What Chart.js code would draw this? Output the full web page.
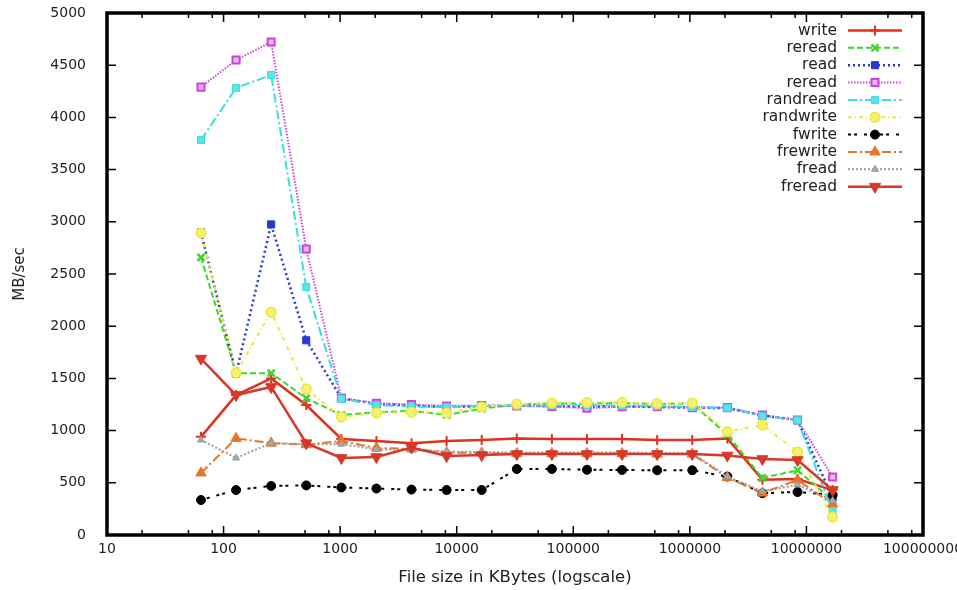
<!DOCTYPE html>
<html lang="en">
<head>
<meta charset="UTF-8">
<title>File size vs MB/sec</title>
<script src="https://cdn.jsdelivr.net/npm/chart.js"></script>
<style>
  html, body { margin: 0; padding: 0; background: #fff; }
</style>
</head>
<body>
<canvas id="chart" width="957" height="590"></canvas>
<script>
// file sizes in KBytes (x), values in MB/sec
const fileSizes = [64, 128, 256, 512, 1024, 2048, 4096, 8192, 16384, 32768, 65536,
  131072, 262144, 524288, 1048576, 2097152, 4194304, 8388608, 16777216];
const xTickValues = [10, 100, 1000, 10000, 100000, 1000000, 10000000, 100000000];
const xTickLabels = ['10', '100', '1000', '10000', '100000', '1000000', '10000000', '100000000'];
const xMinorMults = [2, 5, 8];
const yTickValues = [0, 500, 1000, 1500, 2000, 2500, 3000, 3500, 4000, 4500, 5000];

const seriesNames = ['write', 'reread', 'read', 'reread', 'randread', 'randwrite', 'fwrite', 'frewrite', 'fread', 'freread'];

const writeVals     = [940, 1340, 1500, 1245, 920, 900, 880, 900, 910, 925, 920, 920, 920, 910, 910, 925, 530, 536, 430];
const rereadVals    = [2660, 1550, 1550, 1310, 1150, 1175, 1190, 1150, 1210, 1250, 1260, 1260, 1265, 1255, 1260, 960, 546, 620, 330];
const readVals      = [2900, 1545, 2975, 1865, 1310, 1255, 1240, 1225, 1235, 1240, 1235, 1230, 1235, 1225, 1220, 1215, 1145, 1100, 360];
const reread2Vals   = [4290, 4550, 4722, 2740, 1312, 1262, 1250, 1236, 1240, 1236, 1230, 1215, 1228, 1230, 1220, 1222, 1148, 1102, 556];
const randreadVals  = [3784, 4282, 4406, 2375, 1305, 1245, 1230, 1225, 1235, 1240, 1240, 1245, 1240, 1235, 1225, 1218, 1140, 1098, 225];
const randwriteVals = [2893, 1552, 2136, 1398, 1130, 1169, 1178, 1169, 1226, 1255, 1264, 1268, 1270, 1260, 1264, 990, 1054, 795, 172];
const fwriteVals    = [335, 431, 470, 475, 455, 445, 435, 431, 431, 632, 632, 625, 623, 620, 620, 560, 400, 412, 383];
const frewriteVals  = [594, 925, 880, 865, 900, 833, 825, 790, 785, 780, 780, 780, 780, 775, 775, 550, 402, 527, 297];
const freadVals     = [910, 738, 880, 870, 870, 820, 815, 800, 795, 790, 790, 790, 790, 785, 785, 560, 420, 480, 330];
const frereadVals   = [1690, 1341, 1418, 880, 738, 747, 838, 757, 766, 776, 776, 776, 776, 776, 776, 762, 728, 718, 431];

const seriesValues = [writeVals, rereadVals, readVals, reread2Vals, randreadVals, randwriteVals,
  fwriteVals, frewriteVals, freadVals, frereadVals];

const styles = [
  { color: '#e0301e', dash: [], width: 2.5, point: 'cross', radius: 5, fill: '#e0301e', pw: 2 },
  { color: '#3fd42f', dash: [6, 3], width: 2, point: 'crossRot', radius: 5, fill: '#3fd42f', pw: 2.5 },
  { color: '#2437d8', dash: [2, 3], width: 2.5, point: 'rect', radius: 5, fill: '#2437d8', pw: 1 },
  { color: '#cc44dd', dash: [1.5, 1.5], width: 2, point: 'rect', radius: 5, fill: '#e9b4f1', pw: 2 },
  { color: '#3adde2', dash: [9, 3, 2, 3], width: 2, point: 'rect', radius: 5, fill: '#5be3e6', pw: 1 },
  { color: '#eee838', dash: [4, 3, 1, 3], width: 2, point: 'circle', radius: 4.8, fill: '#f5f170', pw: 1.5 },
  { color: '#000000', dash: [3, 3, 3, 7], width: 2, point: 'circle', radius: 4.5, fill: '#000000', pw: 1 },
  { color: '#e8742a', dash: [9, 3, 2, 3], width: 2, point: 'triangle', radius: 6, fill: '#e8742a', pw: 1 },
  { color: '#999999', dash: [2, 2], width: 2, point: 'triangle', radius: 4, fill: '#aaaaaa', pw: 1 },
  { color: '#d8382a', dash: [], width: 2.5, point: 'triangle', radius: 6.5, fill: '#d8382a', pw: 1, rot: 180 }
];

const datasets = seriesNames.map((name, i) => ({
  label: name,
  data: fileSizes.map((s, j) => ({ x: s, y: seriesValues[i][j] })),
  borderColor: styles[i].color,
  borderWidth: styles[i].width,
  borderDash: styles[i].dash,
  backgroundColor: styles[i].fill,
  pointStyle: styles[i].point,
  pointRadius: styles[i].radius,
  pointBorderWidth: styles[i].pw,
  pointBorderColor: styles[i].color,
  pointBackgroundColor: styles[i].fill,
  pointRotation: styles[i].rot || 0,
  tension: 0,
  fill: false,
  order: seriesNames.length - i
}));

const FONT = 'DejaVu Sans';

// gnuplot-ish frame, inward ticks and key
const framePlugin = {
  id: 'frame',
  afterDatasetsDraw(chart) {
    const { ctx, chartArea: a, scales } = chart;
    ctx.save();
    ctx.strokeStyle = '#000';
    ctx.lineWidth = 1.5;
    ctx.setLineDash([]);
    ctx.beginPath();
    xTickValues.forEach(v => {
      const px = scales.x.getPixelForValue(v);
      ctx.moveTo(px, a.bottom); ctx.lineTo(px, a.bottom - 9);
      ctx.moveTo(px, a.top); ctx.lineTo(px, a.top + 9);
      if (v < 100000000) {
        xMinorMults.forEach(m => {
          const mx = scales.x.getPixelForValue(v * m);
          ctx.moveTo(mx, a.bottom); ctx.lineTo(mx, a.bottom - 5);
          ctx.moveTo(mx, a.top); ctx.lineTo(mx, a.top + 5);
        });
      }
    });
    yTickValues.forEach(v => {
      const py = scales.y.getPixelForValue(v);
      ctx.moveTo(a.left, py); ctx.lineTo(a.left + 9, py);
      ctx.moveTo(a.right, py); ctx.lineTo(a.right - 9, py);
    });
    ctx.stroke();
    ctx.lineWidth = 3.5;
    ctx.strokeRect(a.left, a.top, a.right - a.left, a.bottom - a.top);

    // key
    const x1 = 848, x2 = 902, tx = 837;
    ctx.font = '15.5px "' + FONT + '"';
    ctx.textAlign = 'right';
    ctx.textBaseline = 'middle';
    chart.data.datasets.forEach((ds, i) => {
      const y = 30.5 + i * 17.35;
      ctx.fillStyle = '#222';
      ctx.fillText(ds.label, tx, y);
      ctx.strokeStyle = ds.borderColor;
      ctx.lineWidth = ds.borderWidth;
      ctx.setLineDash(ds.borderDash);
      ctx.beginPath();
      ctx.moveTo(x1, y); ctx.lineTo(x2, y);
      ctx.stroke();
      ctx.setLineDash([]);
      ctx.fillStyle = ds.pointBackgroundColor;
      ctx.lineWidth = ds.pointBorderWidth;
      Chart.helpers.drawPoint(ctx, {
        pointStyle: ds.pointStyle,
        radius: ds.pointRadius,
        rotation: ds.pointRotation,
        borderWidth: ds.pointBorderWidth
      }, (x1 + x2) / 2, y);
    });
    ctx.restore();
  }
};

new Chart(document.getElementById('chart'), {
  type: 'line',
  data: { datasets },
  options: {
    responsive: false,
    animation: false,
    layout: { padding: { top: 13, right: 34, bottom: 0, left: 0 } },
    plugins: { legend: { display: false }, tooltip: { enabled: false } },
    scales: {
      x: {
        type: 'logarithmic',
        min: 10,
        max: 100000000,
        grid: { display: false, drawTicks: false },
        border: { display: false },
        afterBuildTicks: s => { s.ticks = xTickValues.map(v => ({ value: v })); },
        afterFit: s => { s.height = 55; s.paddingLeft = 0; s.paddingRight = 0; },
        ticks: {
          autoSkip: false,
          maxRotation: 0,
          padding: 6,
          color: '#222',
          font: { family: FONT, size: 14 },
          callback: v => {
            const k = xTickValues.indexOf(v);
            return k >= 0 ? xTickLabels[k] : '';
          }
        },
        title: {
          display: true,
          text: 'File size in KBytes (logscale)',
          color: '#222',
          font: { family: FONT, size: 16.5 },
          padding: { top: 0, bottom: 2 }
        }
      },
      y: {
        min: 0,
        max: 5000,
        grid: { display: false, drawTicks: false },
        border: { display: false },
        afterBuildTicks: s => { s.ticks = yTickValues.map(v => ({ value: v })); },
        afterFit: s => { s.width = 107; s.paddingTop = 0; s.paddingBottom = 0; },
        ticks: {
          padding: 21,
          color: '#222',
          font: { family: FONT, size: 14 },
          callback: v => String(v)
        },
        title: {
          display: true,
          text: 'MB/sec',
          color: '#222',
          font: { family: FONT, size: 15 },
          padding: { top: 11, bottom: 0 }
        }
      }
    }
  },
  plugins: [framePlugin]
});
</script>
</body>
</html>
